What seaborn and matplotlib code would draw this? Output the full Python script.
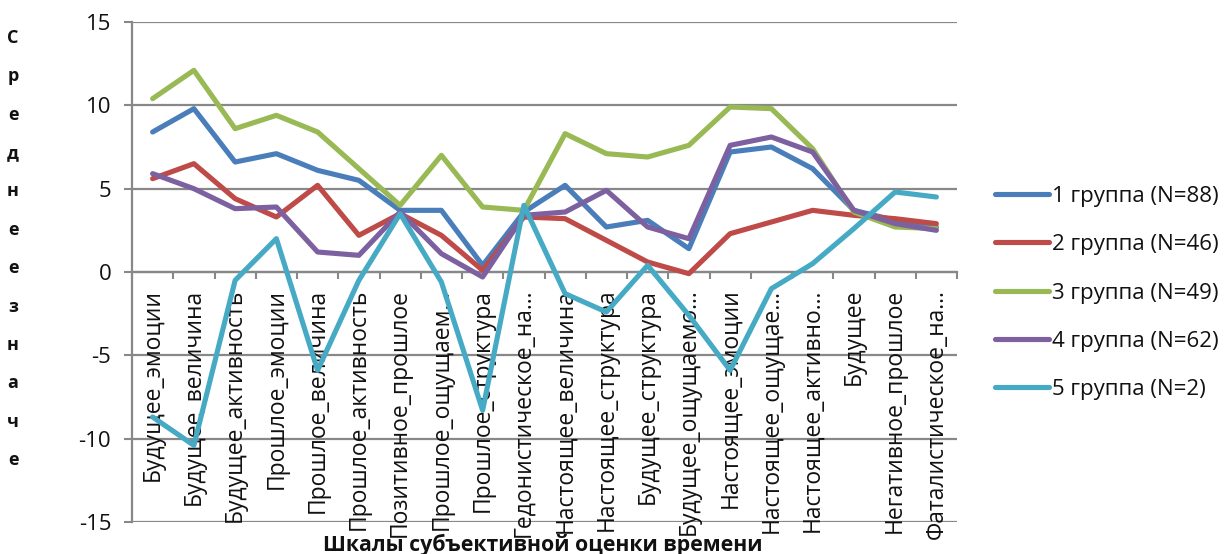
import numpy as np
import pandas as pd
import matplotlib
matplotlib.use("Agg")
import matplotlib.pyplot as plt
import seaborn as sns
from matplotlib.lines import Line2D
from matplotlib.ticker import FixedLocator

categories = [
    "Будущее_эмоции", "Будущее_величина", "Будущее_активность", "Прошлое_эмоции",
    "Прошлое_величина", "Прошлое_активность", "Позитивное_прошлое", "Прошлое_ощущаем...",
    "Прошлое_структура", "Гедонистическое_на...", "Настоящее_величина", "Настоящее_структура",
    "Будущее_структура", "Будущее_ощущаемо...", "Настоящее_эмоции", "Настоящее_ощущае...",
    "Настоящее_активно...", "Будущее", "Негативное_прошлое", "Фаталистическое_на...",
]

group_names = ["1 группа (N=88)", "2 группа (N=46)", "3 группа (N=49)",
               "4 группа (N=62)", "5 группа (N=2)"]

g1 = [8.4, 9.8, 6.6, 7.1, 6.1, 5.5, 3.7, 3.7, 0.4, 3.6, 5.2, 2.7, 3.1, 1.4, 7.2, 7.5, 6.2, 3.7, 3.1, 2.7]
g2 = [5.6, 6.5, 4.4, 3.3, 5.2, 2.2, 3.5, 2.2, 0.1, 3.3, 3.2, 1.9, 0.6, -0.1, 2.3, 3.0, 3.7, 3.4, 3.2, 2.9]
g3 = [10.4, 12.1, 8.6, 9.4, 8.4, 6.2, 4.0, 7.0, 3.9, 3.7, 8.3, 7.1, 6.9, 7.6, 9.9, 9.8, 7.4, 3.6, 2.7, 2.6]
g4 = [5.9, 5.0, 3.8, 3.9, 1.2, 1.0, 3.6, 1.1, -0.3, 3.4, 3.6, 4.9, 2.7, 2.0, 7.6, 8.1, 7.2, 3.7, 2.9, 2.5]
g5 = [-8.7, -10.4, -0.5, 2.0, -5.9, -0.5, 3.5, -0.6, -8.3, 4.0, -1.3, -2.4, 0.4, -2.6, -5.9, -1.0, 0.5, 2.6, 4.8, 4.5]

colors = ["#4A7EBB", "#BE4B48", "#98B954", "#7D60A0", "#46AAC5"]

x_title = "Шкалы субъективной оценки времени"
y_title = "Среднеезначе"
yticks = [-15, -10, -5, 0, 5, 10, 15]

series = [g1, g2, g3, g4, g5]
df = pd.concat(
    [pd.DataFrame({"scale": categories, "value": vals, "group": name, "pos": np.arange(len(categories))})
     for name, vals in zip(group_names, series)],
    ignore_index=True,
)

sns.set_theme(style="white")
plt.rcParams["font.family"] = ["Open Sans", "DejaVu Sans"]
plt.rcParams["axes.unicode_minus"] = False

W, H = 1226, 554
fig = plt.figure(figsize=(W / 100, H / 100), dpi=100)
ax = fig.add_axes([132 / W, 1 - 522 / H, (957 - 132) / W, 500 / H])

grid_c = "#888888"
ax.set_ylim(-15, 15)
ax.set_xlim(-0.5, len(categories) - 0.5)
ax.set_yticks(yticks)
for yv in yticks:
    ax.axhline(yv, color=grid_c, lw=1.6, zorder=0)
n_grid = len(ax.lines)

sns.lineplot(data=df, x="pos", y="value", hue="group", palette=colors,
             hue_order=group_names, sort=False, lw=3.7, ax=ax, legend=False,
             estimator=None)
for k, ln in enumerate(ax.lines[n_grid:]):
    ln.set_solid_joinstyle("round")
    ln.set_solid_capstyle("round")
    ln.set_zorder(4 + k * 0.01)

for s in ["top", "right"]:
    ax.spines[s].set_visible(False)
ax.spines["bottom"].set_position(("data", 0))
ax.spines["bottom"].set_color(grid_c)
ax.spines["bottom"].set_linewidth(1.6)
ax.spines["left"].set_color(grid_c)
ax.spines["left"].set_linewidth(1.6)
ax.spines["bottom"].set_zorder(1)

ax.set_xticks(np.arange(len(categories)))
ax.set_xticklabels(categories, rotation=90, fontsize=16.5, color="#111111")
ax.xaxis.set_minor_locator(FixedLocator(np.arange(-0.5, len(categories), 1.0)))
ax.tick_params(axis="x", which="major", length=0, pad=12)
ax.tick_params(axis="x", which="minor", length=5, width=1.5, color=grid_c, direction="out", bottom=True)
ax.tick_params(axis="y", which="major", length=6, width=1.5, color=grid_c, direction="out",
               left=True, labelsize=16, labelcolor="#111111", pad=9)
ax.set_xlabel("")
ax.set_ylabel("")
for lab in ax.get_xticklabels():
    lab.set_va("top")

fig.text(543 / W, 1 - 545 / H, x_title, ha="center", va="center", fontsize=15.3,
         fontweight="bold", color="#111111")

ys = np.linspace(38, 460, len(y_title))
for ch, yp in zip(y_title, ys):
    fig.text(13 / W, 1 - yp / H, ch, ha="center", va="center", fontsize=13,
             fontweight="bold", color="#111111")

handles = [Line2D([0], [0], color=c, lw=3.7, solid_capstyle="round") for c in colors]
leg = ax.legend(handles, group_names, loc="center left", bbox_to_anchor=(995 / W, 1 - 293 / H),
                bbox_transform=fig.transFigure, frameon=False, fontsize=16,
                handlelength=2.45, handletextpad=0.1, labelspacing=1.23, borderaxespad=0,
                borderpad=0)
for t in leg.get_texts():
    t.set_color("#111111")

fig.savefig("out.png", dpi=100)
